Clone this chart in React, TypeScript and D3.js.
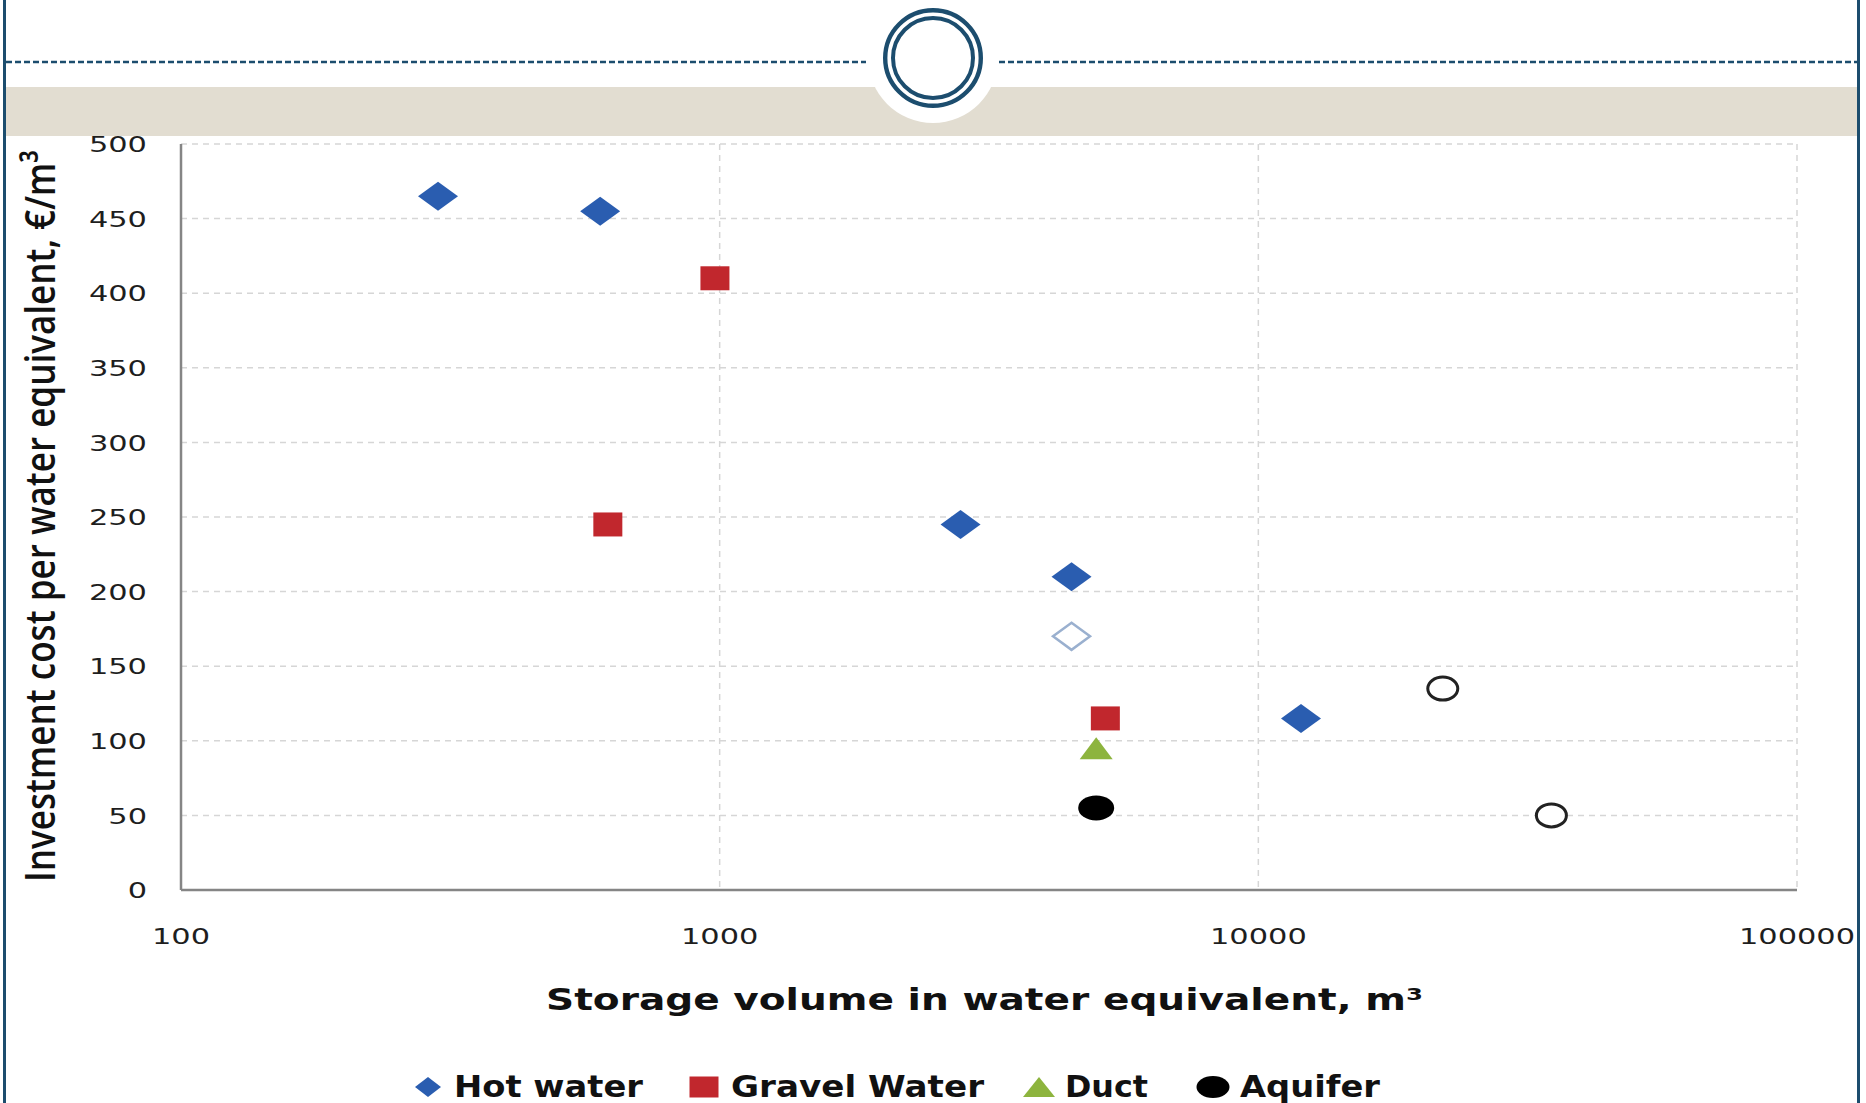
import React, { useEffect, useRef } from "react";
import * as d3 from "d3";

const WIDTH = 1866;
const HEIGHT = 1103;

// storage volume (m³) and investment cost (€/m³)
const hotWaterVolume = [300, 600, 2800, 4500, 12000];
const hotWaterCost = [465, 455, 245, 210, 115];
const hotWaterOpenVolume = [4500];
const hotWaterOpenCost = [170];
const gravelVolume = [620, 980, 5200];
const gravelCost = [245, 410, 115];
const ductVolume = [5000];
const ductCost = [95];
const aquiferVolume = [5000];
const aquiferCost = [55];
const otherVolume = [22000, 35000];
const otherCost = [135, 50];

const yTicks = [0, 50, 100, 150, 200, 250, 300, 350, 400, 450, 500];
const xTicks = [100, 1000, 10000, 100000];
const legendLabels = ["Hot water", "Gravel Water", "Duct", "Aquifer"];

const BLUE = "#2a5db0";
const RED = "#c1272d";
const GREEN = "#8db43e";
const NAVY = "#1c4d6e";

const diamond = (w: number, h: number) => `M0,${-h / 2}L${w / 2},0L0,${h / 2}L${-w / 2},0Z`;
const square = (w: number, h: number) => `M${-w / 2},${-h / 2}h${w}v${h}h${-w}Z`;
const triangle = (w: number, h: number) => `M0,${-h / 2}L${w / 2},${h / 2}L${-w / 2},${h / 2}Z`;

function drawChart(svgEl: SVGSVGElement) {
  const svg = d3.select(svgEl);
  svg.selectAll("*").remove();

  const x = d3.scaleLog().domain([100, 100000]).range([181, 1797]);
  const y = d3.scaleLinear().domain([0, 500]).range([890, 144]);

  // gridlines
  const grid = svg.append("g")
    .attr("stroke", "#d6d6d6")
    .attr("stroke-width", 1.5)
    .attr("stroke-dasharray", "6,5");
  grid.selectAll(".hgrid").data(yTicks.filter(d => d > 0)).enter()
    .append("line")
    .attr("x1", x(100)).attr("x2", x(100000))
    .attr("y1", d => y(d)).attr("y2", d => y(d));
  grid.selectAll(".vgrid").data(xTicks.slice(1)).enter()
    .append("line")
    .attr("x1", d => x(d)).attr("x2", d => x(d))
    .attr("y1", y(500)).attr("y2", y(0));

  // axis lines
  svg.append("line")
    .attr("x1", x(100)).attr("x2", x(100000)).attr("y1", y(0)).attr("y2", y(0))
    .attr("stroke", "#858585").attr("stroke-width", 2.5);
  svg.append("line")
    .attr("x1", x(100)).attr("x2", x(100)).attr("y1", y(0)).attr("y2", y(500))
    .attr("stroke", "#858585").attr("stroke-width", 2.5);

  // tick labels (the source is stretched sideways)
  svg.selectAll(".ylab").data(yTicks).enter()
    .append("text")
    .attr("transform", d => `translate(147,${y(d) + 1}) scale(1.45,1)`)
    .attr("text-anchor", "end")
    .attr("dominant-baseline", "central")
    .attr("font-family", "DejaVu Sans")
    .attr("font-size", 21)
    .attr("fill", "#1e1e1e")
    .text(d => d);
  svg.selectAll(".xlab").data(xTicks).enter()
    .append("text")
    .attr("transform", d => `translate(${x(d)},937) scale(1.45,1)`)
    .attr("text-anchor", "middle")
    .attr("dominant-baseline", "central")
    .attr("font-family", "DejaVu Sans")
    .attr("font-size", 21)
    .attr("fill", "#1e1e1e")
    .text(d => d);

  // markers
  const pts = (xs: number[], ys: number[]) => d3.zip(xs, ys);
  svg.selectAll(".hot").data(pts(hotWaterVolume, hotWaterCost)).enter()
    .append("path")
    .attr("d", diamond(40, 29))
    .attr("transform", d => `translate(${x(d[0])},${y(d[1])})`)
    .attr("fill", BLUE);
  svg.selectAll(".hotopen").data(pts(hotWaterOpenVolume, hotWaterOpenCost)).enter()
    .append("path")
    .attr("d", diamond(37, 27))
    .attr("transform", d => `translate(${x(d[0])},${y(d[1])})`)
    .attr("fill", "#fff").attr("stroke", "#9ab0cf").attr("stroke-width", 2.5);
  svg.selectAll(".gravel").data(pts(gravelVolume, gravelCost)).enter()
    .append("path")
    .attr("d", square(29, 24))
    .attr("transform", d => `translate(${x(d[0])},${y(d[1])})`)
    .attr("fill", RED);
  svg.selectAll(".duct").data(pts(ductVolume, ductCost)).enter()
    .append("path")
    .attr("d", triangle(33, 22))
    .attr("transform", d => `translate(${x(d[0])},${y(d[1])})`)
    .attr("fill", GREEN);
  svg.selectAll(".aquifer").data(pts(aquiferVolume, aquiferCost)).enter()
    .append("ellipse")
    .attr("cx", d => x(d[0])).attr("cy", d => y(d[1]))
    .attr("rx", 18).attr("ry", 12.5)
    .attr("fill", "#000");
  svg.selectAll(".other").data(pts(otherVolume, otherCost)).enter()
    .append("ellipse")
    .attr("cx", d => x(d[0])).attr("cy", d => y(d[1]))
    .attr("rx", 15).attr("ry", 11.5)
    .attr("fill", "#fff").attr("stroke", "#222").attr("stroke-width", 3);

  // axis titles
  svg.append("text")
    .attr("transform", "translate(55,516) rotate(-90) scale(1,1.27)")
    .attr("text-anchor", "middle")
    .attr("font-family", "Open Sans")
    .attr("font-weight", 600)
    .attr("font-size", 33)
    .attr("fill", "#111")
    .attr("textLength", 732)
    .attr("lengthAdjust", "spacingAndGlyphs")
    .text("Investment cost per water equivalent, €/m³");
  svg.append("text")
    .attr("x", 546).attr("y", 1010)
    .attr("font-family", "DejaVu Sans")
    .attr("font-weight", "bold")
    .attr("font-size", 30)
    .attr("fill", "#111")
    .attr("textLength", 877)
    .attr("lengthAdjust", "spacingAndGlyphs")
    .text("Storage volume in water equivalent, m³");

  // legend
  const legendLayout = [
    { mx: 428, tx: 454, tw: 189, shape: (g: any) => g.append("path").attr("d", diamond(26, 20)).attr("fill", BLUE) },
    { mx: 704, tx: 731, tw: 253, shape: (g: any) => g.append("path").attr("d", square(29, 21)).attr("fill", RED) },
    { mx: 1039, tx: 1065, tw: 83, shape: (g: any) => g.append("path").attr("d", triangle(32, 20)).attr("fill", GREEN) },
    { mx: 1213, tx: 1240, tw: 140, shape: (g: any) => g.append("ellipse").attr("rx", 16.5).attr("ry", 11).attr("fill", "#000") },
  ];
  legendLabels.forEach((label, i) => {
    const l = legendLayout[i];
    const g = svg.append("g").attr("transform", `translate(${l.mx},1087)`);
    l.shape(g);
    svg.append("text")
      .attr("x", l.tx).attr("y", 1097)
      .attr("font-family", "DejaVu Sans")
      .attr("font-weight", "bold")
      .attr("font-size", 30)
      .attr("fill", "#111")
      .attr("textLength", l.tw)
      .attr("lengthAdjust", "spacingAndGlyphs")
      .text(label);
  });

  // slide header: frame, dashed rule, band, ring badge
  svg.append("line").attr("x1", 4.5).attr("x2", 4.5).attr("y1", 0).attr("y2", HEIGHT)
    .attr("stroke", NAVY).attr("stroke-width", 3);
  svg.append("line").attr("x1", 1858.5).attr("x2", 1858.5).attr("y1", 0).attr("y2", HEIGHT)
    .attr("stroke", NAVY).attr("stroke-width", 3);
  svg.append("rect").attr("x", 6).attr("y", 87).attr("width", 1851).attr("height", 49)
    .attr("fill", "#e2ddd1");
  svg.append("line").attr("x1", 6).attr("x2", 866).attr("y1", 62).attr("y2", 62)
    .attr("stroke", NAVY).attr("stroke-width", 2.5).attr("stroke-dasharray", "6,3");
  svg.append("line").attr("x1", 999).attr("x2", 1857).attr("y1", 62).attr("y2", 62)
    .attr("stroke", NAVY).attr("stroke-width", 2.5).attr("stroke-dasharray", "6,3");
  svg.append("circle").attr("cx", 933).attr("cy", 58).attr("r", 65).attr("fill", "#fff");
  svg.append("circle").attr("cx", 933).attr("cy", 58).attr("r", 47.8)
    .attr("fill", "none").attr("stroke", NAVY).attr("stroke-width", 4.4);
  svg.append("circle").attr("cx", 933).attr("cy", 58).attr("r", 40)
    .attr("fill", "none").attr("stroke", NAVY).attr("stroke-width", 4);
}

export default function App() {
  const svgRef = useRef<SVGSVGElement>(null);

  useEffect(() => {
    if (!svgRef.current) return;
    drawChart(svgRef.current);
  }, []);

  return (
    <svg
      ref={svgRef}
      width={WIDTH}
      height={HEIGHT}
      style={{ position: "absolute", left: 0, top: 0, background: "#fff" }}
    />
  );
}
